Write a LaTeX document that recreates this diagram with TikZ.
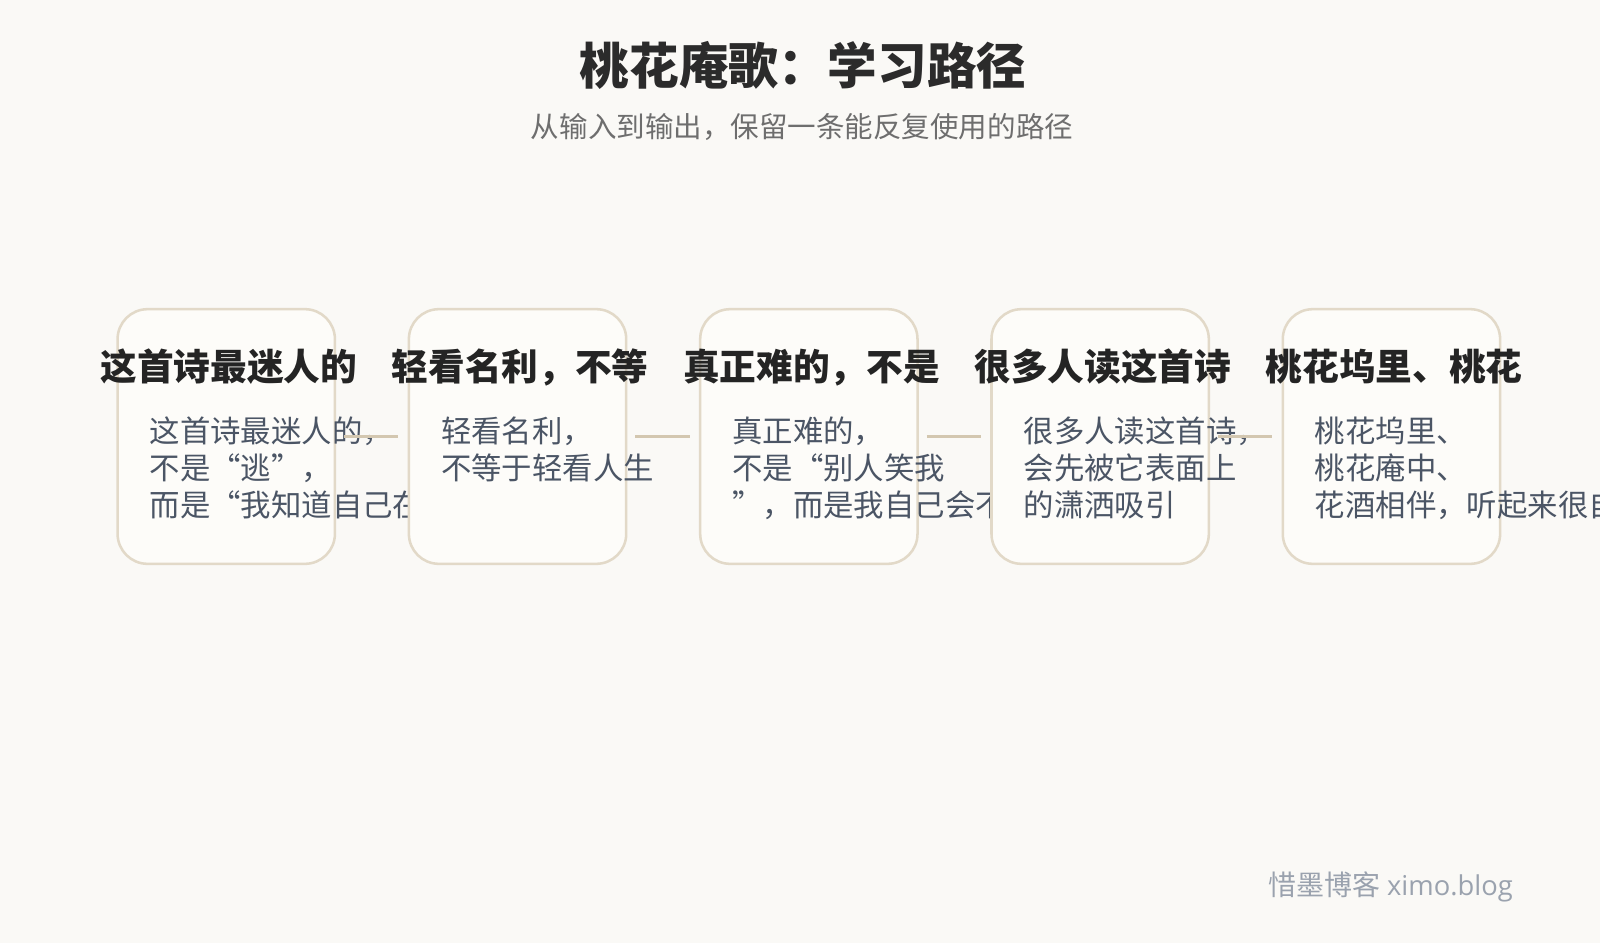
\documentclass[tikz,border=0pt]{standalone}
\usepackage{fontspec}
\setmainfont{Noto Sans CJK SC}
\newfontfamily\latinsans{Open Sans}
\definecolor{bgc}{HTML}{FAF9F6}
\definecolor{cardfill}{HTML}{FDFCF9}
\definecolor{cardline}{HTML}{E2D9C8}
\definecolor{connc}{HTML}{D3C7B0}
\definecolor{titlec}{HTML}{2B2B2B}
\definecolor{subc}{HTML}{6E6E6E}
\definecolor{headc}{HTML}{242424}
\definecolor{bodyc}{HTML}{4B5565}
\definecolor{footc}{HTML}{9AA2AE}
\tikzset{
  card/.style={draw=cardline, line width=1.9pt, fill=cardfill, rounded corners=22.5pt,
    minimum width=163pt, minimum height=191pt, inner sep=0pt},
  txt/.style={inner sep=0pt, text height=0.88em, text depth=0.12em},
  head/.style={txt, anchor=center, xshift=2pt, text=headc, font=\fontsize{27.5}{32}\selectfont\bfseries},
  bodyl/.style={txt, anchor=west, text=bodyc, font=\fontsize{22.8}{27}\selectfont},
  conn/.style={draw=connc, line width=2.8pt},
}
\begin{document}
\begin{tikzpicture}[x=0.75pt,y=-0.75pt]
\useasboundingbox (0,0) rectangle (1600,943);
\fill[bgc] (0,0) rectangle (1600,943);
\node[txt, text=titlec, font=\fontsize{37.2}{42}\selectfont\bfseries] (title) at (803,79) {桃花庵歌：学习路径};
\node[txt, text=subc, font=\fontsize{21.4}{25}\selectfont] (sub) at (802,132) {从输入到输出，保留一条能反复使用的路径};

% card 1
\node[card] (b1) at (226.25,436.5) {};
\node[head] (h1) at (b1.center |- 0,375) {这首诗最迷人的};
\node[bodyl] (p1a) at (149.5,437) {这首诗最迷人的，};
\node[bodyl] (p1b) at (149.5,474) {不是“逃”，};
\node[bodyl] (p1c) at (149.5,511) {而是“我知道自己在做什么”};
% card 2
\node[card] (b2) at (517.55,436.5) {};
\node[head] (h2) at (b2.center |- 0,375) {轻看名利，不等};
\node[bodyl] (p2a) at (440.8,437) {轻看名利，};
\node[bodyl] (p2b) at (440.8,474) {不等于轻看人生};
% card 3
\node[card] (b3) at (808.85,436.5) {};
\node[head] (h3) at (b3.center |- 0,375) {真正难的，不是};
\node[bodyl] (p3a) at (732.1,437) {真正难的，};
\node[bodyl] (p3b) at (732.1,474) {不是“别人笑我};
\node[bodyl] (p3c) at (732.1,511) {”，而是我自己会不会动摇};
% card 4
\node[card] (b4) at (1100.15,436.5) {};
\node[head] (h4) at (b4.center |- 0,375) {很多人读这首诗};
\node[bodyl] (p4a) at (1023.4,437) {很多人读这首诗，};
\node[bodyl] (p4b) at (1023.4,474) {会先被它表面上};
\node[bodyl] (p4c) at (1023.4,511) {的潇洒吸引};
% card 5
\node[card] (b5) at (1391.45,436.5) {};
\node[head] (h5) at (b5.center |- 0,375) {桃花坞里、桃花};
\node[bodyl] (p5a) at (1314.7,437) {桃花坞里、};
\node[bodyl] (p5b) at (1314.7,474) {桃花庵中、};
\node[bodyl] (p5c) at (1314.7,511) {花酒相伴，听起来很自在};

% connectors
\draw[conn] ([xshift=6pt]b1.east) -- ([xshift=-7pt]b2.west);
\draw[conn] ([xshift=6pt]b2.east) -- ([xshift=-7pt]b3.west);
\draw[conn] ([xshift=6pt]b3.east) -- ([xshift=-7pt]b4.west);
\draw[conn] ([xshift=6pt]b4.east) -- ([xshift=-7pt]b5.west);

\node[txt, anchor=east, text=footc, font=\fontsize{21}{24}\selectfont] (foot) at (1513,890) {惜墨博客 {\latinsans\fontsize{20.5}{24}\selectfont ximo.blog}};
\end{tikzpicture}
\end{document}
